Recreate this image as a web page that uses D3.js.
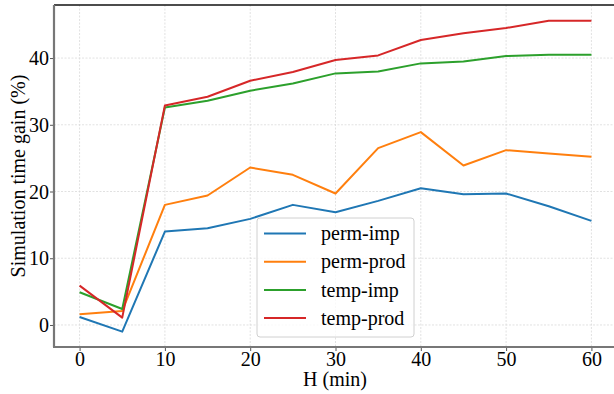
<!DOCTYPE html>
<html><head><meta charset="utf-8">
<script src="https://cdn.jsdelivr.net/npm/d3@7"></script>
<style>body{margin:0;background:#fff}svg{display:block}text{font-family:"Liberation Serif","DejaVu Serif",serif;fill:#000}</style>
</head><body>
<svg id="c" width="614" height="394"></svg>
<script>
const H = [0,5,10,15,20,25,30,35,40,45,50,55,60];
const permImp  = [1.2,-1.0,14.0,14.5,15.9,18.0,16.9,18.6,20.5,19.6,19.7,17.8,15.6];
const permProd = [1.6,2.1,18.0,19.4,23.6,22.5,19.7,26.5,28.9,23.9,26.2,25.7,25.2];
const tempImp  = [4.9,2.4,32.6,33.6,35.1,36.2,37.7,38.0,39.2,39.5,40.3,40.5,40.5];
const tempProd = [5.9,1.1,32.9,34.2,36.6,37.9,39.7,40.4,42.7,43.7,44.5,45.6,45.6];
const seriesNames = ["perm-imp","perm-prod","temp-imp","temp-prod"];
const colors = ["#1f77b4","#ff7f0e","#2ca02c","#d62728"];
const xTicks = [0,10,20,30,40,50,60];
const yTicks = [0,10,20,30,40];

const allSeries = [permImp, permProd, tempImp, tempProd];
const svg = d3.select("#c");
const L = 54, T = 5, R = 617, B = 347;
const x = d3.scaleLinear().domain([-3,63]).range([L,R]);
const y = d3.scaleLinear().domain([-3.3,47.95]).range([B,T]);

const g = svg.append("g");
// grid
g.append("g").selectAll("line").data(xTicks).join("line")
  .attr("x1",d=>x(d)).attr("x2",d=>x(d)).attr("y1",T).attr("y2",B)
  .attr("stroke","#d9d9d9").attr("stroke-width",0.8).attr("stroke-dasharray","2,1.5");
g.append("g").selectAll("line").data(yTicks).join("line")
  .attr("y1",d=>y(d)).attr("y2",d=>y(d)).attr("x1",L).attr("x2",R)
  .attr("stroke","#d9d9d9").attr("stroke-width",0.8).attr("stroke-dasharray","2,1.5");

// lines
const line = d3.line().x((d,i)=>x(H[i])).y(d=>y(d));
allSeries.forEach((s,k)=>{
  g.append("path").datum(s).attr("d",line).attr("fill","none")
   .attr("stroke",colors[k]).attr("stroke-width",2).attr("stroke-linejoin","round");
});

// axes
const xAxis = d3.axisBottom(x).tickValues(xTicks).tickSize(4);
const yAxis = d3.axisLeft(y).tickValues(yTicks).tickSize(4);
const gx = svg.append("g").attr("transform",`translate(0,${B})`).call(xAxis);
const gy = svg.append("g").attr("transform",`translate(${L},0)`).call(yAxis);
[gx,gy].forEach(a=>{
  a.select(".domain").remove();
  a.selectAll(".tick line").attr("stroke","#555").attr("stroke-width",1);
  a.selectAll(".tick text").attr("font-family","Liberation Serif").attr("font-size",20).attr("fill","#000");
});
gx.selectAll(".tick text").attr("y",19).attr("dy",0);
gy.selectAll(".tick text").attr("x",-5).attr("dy","0.33em");
// spines
svg.append("line").attr("x1",L).attr("x2",R).attr("y1",T).attr("y2",T).attr("stroke","#111").attr("stroke-width",1.5);
svg.append("line").attr("x1",L).attr("x2",L).attr("y1",T).attr("y2",B).attr("stroke","#777").attr("stroke-width",2.2);
svg.append("line").attr("x1",L-1).attr("x2",R).attr("y1",B).attr("y2",B).attr("stroke","#777").attr("stroke-width",2.2);

// labels
svg.append("text").attr("x",335).attr("y",386).attr("text-anchor","middle")
  .attr("font-size",20).text("H (min)");
svg.append("text").attr("transform",`translate(25,${(T+B)/2}) rotate(-90)`).attr("text-anchor","middle")
  .attr("font-size",20).text("Simulation time gain (%)");

// legend
const lg = svg.append("g").attr("transform","translate(257,218)");
lg.append("rect").attr("width",157).attr("height",119).attr("rx",3)
  .attr("fill","#fff").attr("fill-opacity",0.8).attr("stroke","#d0d0d0").attr("stroke-width",1);
seriesNames.forEach((n,i)=>{
  const yy = 15.5 + i*28.2;
  lg.append("line").attr("x1",7).attr("x2",49).attr("y1",yy).attr("y2",yy)
    .attr("stroke",colors[i]).attr("stroke-width",2);
  lg.append("text").attr("x",64).attr("y",yy).attr("dy","0.33em").attr("font-size",20).text(n);
});
</script>
</body></html>
